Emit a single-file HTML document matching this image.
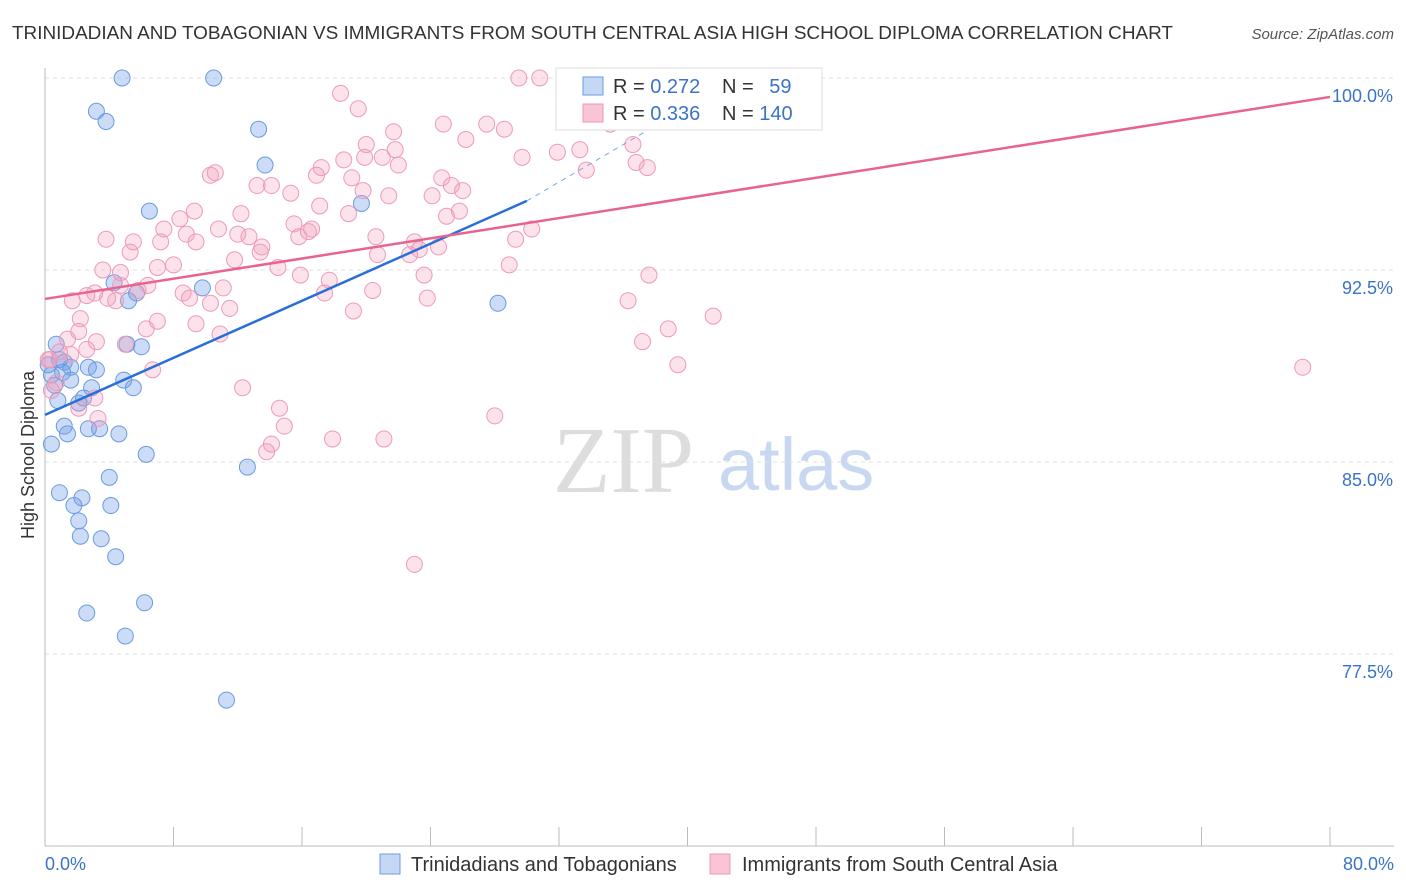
<!DOCTYPE html>
<html><head><meta charset="utf-8"><style>
body{margin:0;background:#fff;font-family:"Liberation Sans",sans-serif}
#wrap{position:relative;width:1406px;height:892px;overflow:hidden}
</style></head><body>
<div id="wrap">
<svg id="svg" width="1406" height="892" xmlns="http://www.w3.org/2000/svg">
<text x="12" y="39" font-size="18" textLength="1161" lengthAdjust="spacingAndGlyphs" fill="#333" font-family="Liberation Sans, sans-serif">TRINIDADIAN AND TOBAGONIAN VS IMMIGRANTS FROM SOUTH CENTRAL ASIA HIGH SCHOOL DIPLOMA CORRELATION CHART</text>
<text x="1394" y="39" font-size="15" fill="#555" font-style="italic" text-anchor="end">Source: ZipAtlas.com</text>
<text x="34" y="455" font-size="18" fill="#333" text-anchor="middle" transform="rotate(-90 34 455)">High School Diploma</text>
<g>
<text x="553" y="492" font-size="94" fill="#ddd" font-family="Liberation Serif, serif">ZIP</text>
<text x="718" y="490" font-size="74" fill="#c8d8f0">atlas</text>
</g>
<g id="grid"></g>
<g id="pts"></g>
<g id="lines"></g>
<g>
<rect x="556" y="68" width="266" height="62" fill="#fff" stroke="#ddd"/>
<rect x="583" y="77" width="20" height="18" fill="#c4d8f6" stroke="#6a9be0"/>
<rect x="583" y="104" width="20" height="18" fill="#f8c4d6" stroke="#ee9ab8"/>
<text x="613" y="93" font-size="20" fill="#333">R = <tspan fill="#3b73c8">0.272</tspan></text>
<text x="722" y="93" font-size="20" fill="#333">N = <tspan fill="#3b73c8" dx="10">59</tspan></text>
<text x="613" y="120" font-size="20" fill="#333">R = <tspan fill="#3b73c8">0.336</tspan></text>
<text x="722" y="120" font-size="20" fill="#333">N = <tspan fill="#3b73c8">140</tspan></text>
</g>
<g>
<rect x="380" y="854" width="20" height="20" fill="#c4d8f6" stroke="#6a9be0"/>
<text x="411" y="871" font-size="20" fill="#333">Trinidadians and Tobagonians</text>
<rect x="710" y="854" width="20" height="20" fill="#f8c4d6" stroke="#ee9ab8"/>
<text x="742" y="871" font-size="20" fill="#333">Immigrants from South Central Asia</text>
</g>
</svg>
</div>
<script>
const yTicks=[100,92.5,85,77.5];
const yTickLabels=["100.0%","92.5%","85.0%","77.5%"];
const xEndLabels=["0.0%","80.0%"];
const blueX=[4.8,10.5,3.2,3.8,13.3,13.7,6.5,19.7,28.2,5.2,5.7,4.3,9.8,5.1,6.0,0.7,0.9,0.2,0.4,1.1,1.6,2.7,3.2,1.6,4.9,5.5,2.9,0.8,2.1,2.4,1.2,1.4,2.7,3.4,4.6,0.4,6.3,12.6,4.0,0.9,2.3,1.8,4.1,2.1,2.2,3.5,4.4,2.6,6.2,5.0,11.3,0.6,1.2];
const blueY=[100,100,98.7,98.3,98.0,96.6,94.8,95.1,91.2,91.3,91.6,92.0,91.8,89.6,89.5,89.6,89.0,88.8,88.4,88.5,88.7,88.7,88.6,88.2,88.2,87.9,87.9,87.4,87.3,87.5,86.4,86.1,86.3,86.3,86.1,85.7,85.3,84.8,84.4,83.8,83.6,83.3,83.3,82.7,82.1,82.0,81.3,79.1,79.5,78.2,75.7,88.0,88.9];
const pinkX=[29.5,30.8,32.9,18.4,19.5,24.8,27.5,28.6,21.7,26.2,20.0,21.8,31.9,33.3,36.6,29.7,18.6,19.9,21.0,17.2,22.0,10.3,10.6,33.7,36.8,37.5,16.9,19.1,13.2,14.1,15.3,24.7,25.3,26.0,24.1,19.8,21.4,25.8,25.0,12.2,9.3,17.1,18.9,8.4,15.5,10.8,30.3,16.6,7.4,8.8,12.7,12.0,15.8,16.4,20.6,23.0,3.8,7.2,5.5,9.4,13.5,29.3,13.4,5.3,23.3,24.5,20.7,22.7,11.8,8.0,7.0,3.6,4.7,14.5,28.9,23.6,37.6,15.9,17.7,4.7,6.4,5.8,8.6,11.1,20.4,3.1,2.6,3.9,17.4,1.7,9.0,4.4,10.3,23.8,11.5,36.3,2.2,7.0,19.2,9.4,10.9,6.3,2.1,41.6,38.8,37.2,1.4,3.2,5.0,2.6,1.6,0.2,78.3,39.4,6.7,0.7,12.3,3.1,2.1,14.6,28.0,3.3,14.9,17.9,21.1,14.1,13.8,23.0,35.2,36.2,0.3,0.4,0.9];
const pinkY=[100,100,99.1,99.4,98.8,98.2,98.2,98.0,97.9,97.6,97.4,97.2,97.1,97.2,97.4,96.9,96.8,96.9,96.9,96.5,96.6,96.2,96.3,96.4,96.7,96.5,96.2,96.1,95.8,95.8,95.5,96.1,95.8,95.6,95.4,95.6,95.4,94.8,94.6,94.7,94.8,95.0,94.7,94.5,94.3,94.1,94.1,94.1,94.1,93.9,93.8,93.9,93.8,94.0,93.8,93.6,93.7,93.6,93.6,93.6,93.4,93.7,93.2,93.2,93.3,93.4,93.1,93.1,92.9,92.7,92.6,92.5,92.4,92.6,92.7,92.3,92.3,92.3,92.1,91.9,91.9,91.7,91.6,91.8,91.7,91.6,91.5,91.4,91.6,91.3,91.4,91.3,91.2,91.4,91.0,91.3,90.6,90.5,90.9,90.4,90.0,90.2,90.1,90.7,90.2,89.7,89.8,89.7,89.6,89.4,89.2,89.0,88.7,88.8,88.6,88.1,87.9,87.5,87.1,87.1,86.8,86.7,86.4,85.9,85.9,85.7,85.4,81.0,98.2,98.6,89.0,87.8,89.3];
const blueTrend=[[0,86.84],[30,95.2]];
const blueDash=[[30,95.2],[42,99.6]];
const pinkTrend=[[0,91.37],[80,99.26]];
const NS="http://www.w3.org/2000/svg";
const xs=v=>45+v*16.0625;
const ys=v=>78+(100-v)*25.6;
function mk(tag,attrs,parent){const e=document.createElementNS(NS,tag);for(const k in attrs)e.setAttribute(k,attrs[k]);parent.appendChild(e);return e;}
const svg=document.getElementById('svg'),grid=document.getElementById('grid'),pts=document.getElementById('pts'),lines=document.getElementById('lines');
yTicks.forEach((t,i)=>{
 const l=mk('line',{x1:45,x2:1394,y1:ys(t),y2:ys(t),stroke:'#e0e0e0','stroke-dasharray':'4,4'},grid);
 
 
 const tx=mk('text',{x:1393,y:ys(t)+24,'font-size':18,fill:'#3b73c8','text-anchor':'end'},grid);
 tx.textContent=yTickLabels[i];
 
 
});
const ax=mk('line',{x1:45,x2:45,y1:68,y2:846,stroke:'#bbb'},grid);


const bx=mk('line',{x1:45,x2:1394,y1:846,y2:846,stroke:'#bbb'},grid);


for(let i=0;i<=10;i++){
 const t=mk('line',{x1:xs(i*8),x2:xs(i*8),y1:827,y2:846,stroke:'#bbb'},grid);
 
 
}
[[0,'start',45],[80,'end',1394]].forEach((d,i)=>{
 const tx=mk('text',{x:d[2],y:870,'font-size':18,fill:'#3b73c8','text-anchor':d[1]},grid);
 tx.textContent=xEndLabels[i];
 
 
});
blueX.forEach((v,i)=>{
 const c=mk('circle',{cx:xs(v),cy:ys(blueY[i]),r:8,fill:'rgba(110,155,228,0.35)',stroke:'#6a9be0','stroke-width':1},pts);
 
 
});
pinkX.forEach((v,i)=>{
 const c=mk('circle',{cx:xs(v),cy:ys(pinkY[i]),r:8,fill:'rgba(242,160,190,0.3)',stroke:'#ee9ab8','stroke-width':1},pts);
 
 
});
function ln(p,col,dash,name){
 const l=mk('line',{x1:xs(p[0][0]),y1:ys(p[0][1]),x2:xs(p[1][0]),y2:ys(p[1][1]),stroke:col,'stroke-width':dash?1:2.5},lines);
 if(dash)l.setAttribute('stroke-dasharray','5,5');
 
 
}
ln(blueTrend,'#2a6fd6',false,'blue-trend-line');
ln(blueDash,'#7aa6e6',true,'blue-trend-extension');
ln(pinkTrend,'#e8648e',false,'pink-trend-line');
</script>
</body></html>
